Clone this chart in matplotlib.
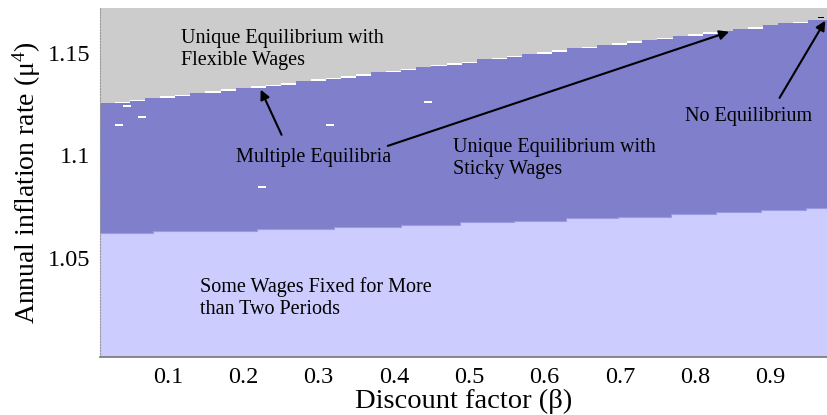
import matplotlib
matplotlib.use("Agg")
import matplotlib.pyplot as plt
import numpy as np

plt.rcParams['font.family'] = ['Liberation Serif', 'DejaVu Serif']
plt.rcParams['mathtext.fontset'] = 'custom'
plt.rcParams['mathtext.rm'] = 'Liberation Serif'
plt.rcParams['mathtext.it'] = 'Liberation Serif:italic'

# ---- data ----
# upper boundary (sticky-wage region / flexible-wage region), step start points
beta_up = [0.010, 0.030, 0.050, 0.070, 0.090, 0.110, 0.130, 0.150, 0.170, 0.190,
           0.210, 0.230, 0.250, 0.270, 0.290, 0.310, 0.330, 0.350, 0.370, 0.390,
           0.410, 0.430, 0.450, 0.470, 0.490, 0.510, 0.530, 0.550, 0.570, 0.590,
           0.610, 0.630, 0.650, 0.670, 0.690, 0.710, 0.730, 0.750, 0.770, 0.790,
           0.810, 0.830, 0.850, 0.870, 0.890, 0.910, 0.930, 0.950]
mu_up = [1.1256, 1.1262, 1.1270, 1.1280, 1.1288, 1.1296, 1.1304, 1.1313, 1.1321, 1.1328,
         1.1337, 1.1345, 1.1352, 1.1361, 1.1370, 1.1378, 1.1386, 1.1395, 1.1404, 1.1412,
         1.1422, 1.1430, 1.1440, 1.1449, 1.1457, 1.1467, 1.1476, 1.1484, 1.1494, 1.1503,
         1.1511, 1.1521, 1.1530, 1.1538, 1.1547, 1.1556, 1.1564, 1.1573, 1.1582, 1.1590,
         1.1599, 1.1608, 1.1616, 1.1625, 1.1634, 1.1643, 1.1651, 1.1660]
# thickness of the "multiple equilibria" sliver under each step
mult_thick = [0.0000, 0.0007, 0.0007, 0.0000, 0.0007, 0.0007, 0.0000, 0.0007, 0.0007, 0.0000,
              0.0007, 0.0007, 0.0007, 0.0000, 0.0007, 0.0007, 0.0007, 0.0007, 0.0000, 0.0007,
              0.0007, 0.0000, 0.0007, 0.0007, 0.0007, 0.0000, 0.0007, 0.0007, 0.0000, 0.0007,
              0.0007, 0.0000, 0.0007, 0.0000, 0.0007, 0.0007, 0.0000, 0.0007, 0.0000, 0.0007,
              0.0007, 0.0000, 0.0000, 0.0007, 0.0000, 0.0000, 0.0007, 0.0000]

# lower boundary (more-than-two-periods region / sticky-wage region)
beta_lo = [0.010, 0.080, 0.219, 0.320, 0.409, 0.488, 0.559, 0.629, 0.698, 0.768, 0.828, 0.888, 0.947]
mu_lo = [1.0623, 1.0632, 1.0643, 1.0651, 1.0662, 1.0674, 1.0682, 1.0694, 1.0701, 1.0715, 1.0724, 1.0733, 1.0744]

# isolated multiple-equilibria points
iso_beta = [0.035, 0.046, 0.066, 0.225, 0.315, 0.445]
iso_mu = [1.1149, 1.1241, 1.1188, 1.0846, 1.1149, 1.1261]

# no-equilibrium point
noeq_beta = [0.967]
noeq_mu = [1.1668]

beta_min, beta_max = 0.010, 0.975
mu_min, mu_max = 1.0017, 1.1718

x_ticks = [0.1, 0.2, 0.3, 0.4, 0.5, 0.6, 0.7, 0.8, 0.9]
x_ticklabels = ["0.1", "0.2", "0.3", "0.4", "0.5", "0.6", "0.7", "0.8", "0.9"]
y_ticks = [1.05, 1.10, 1.15]
y_ticklabels = ["1.05", "1.1", "1.15"]

c_gray = '#cccccc'
c_dark = '#7f7fcc'
c_light = '#ccccff'

fig = plt.figure(figsize=(8.27, 4.15), dpi=100)
ax = fig.add_axes([100/827, 58/415, 727/827, 349/415])
ax.set_facecolor(c_gray)

# sticky wage region (dark) from bottom up to the upper boundary
xu = list(beta_up) + [beta_max]
yu = list(mu_up) + [mu_up[-1]]
ax.fill_between(xu, mu_min, yu, step='post', color=c_dark, lw=0)

# multiple equilibria slivers
up_w = np.diff(xu)
ax.bar(beta_up, mult_thick, width=up_w, bottom=np.array(mu_up) - np.array(mult_thick),
       align='edge', color='white', lw=0)

# more than two periods region (light)
xl = list(beta_lo) + [beta_max]
yl = list(mu_lo) + [mu_lo[-1]]
ax.fill_between(xl, mu_min, yl, step='post', color=c_light, lw=0)
ax.step(xl, yl, where='post', color='#9a9ae0', lw=0.8)

# isolated points
ax.bar(iso_beta, 0.0012, width=0.011, bottom=np.array(iso_mu) - 0.0006,
       color='white', lw=0)
ax.bar(noeq_beta, 0.0006, width=0.008, bottom=np.array(noeq_mu), color='black', lw=0)

ax.set_xlim(beta_min, beta_max)
ax.set_ylim(mu_min, mu_max)
ax.set_xticks(x_ticks)
ax.set_xticklabels(x_ticklabels)
ax.set_yticks(y_ticks)
ax.set_yticklabels(y_ticklabels)
ax.tick_params(length=0, labelsize=17.5, pad=7)

for s in ['top', 'right']:
    ax.spines[s].set_visible(False)
ax.spines['left'].set_linestyle(':')
ax.spines['left'].set_color('#999999')
ax.spines['bottom'].set_color('#777777')
ax.spines['bottom'].set_linewidth(1.2)

ax.set_xlabel("Discount factor (β)", fontsize=20.5, labelpad=1)
ax.set_ylabel("Annual inflation rate (μ$^{4}$)", fontsize=20, labelpad=3)

tfs = 14.5
ax.text(0.1175, 1.1517, "Unique Equilibrium with\nFlexible Wages", fontsize=tfs,
        ha='left', va='center', linespacing=1.2)
ax.text(0.478, 1.0983, "Unique Equilibrium with\nSticky Wages", fontsize=tfs,
        ha='left', va='center', linespacing=1.2)
ax.text(0.787, 1.1188, "No Equilibrium", fontsize=tfs, ha='left', va='center')
ax.text(0.1425, 1.0305, "Some Wages Fixed for More\nthan Two Periods", fontsize=tfs,
        ha='left', va='center', linespacing=1.2)
ax.text(0.190, 1.0988, "Multiple Equilibria", fontsize=tfs, ha='left', va='center')

ap = dict(arrowstyle='-|>', lw=1.5, color='black', mutation_scale=14,
          shrinkA=0, shrinkB=0)
ax.annotate("", xy=(0.2233, 1.1320), xytext=(0.251, 1.1100), arrowprops=ap)
ax.annotate("", xy=(0.845, 1.1602), xytext=(0.392, 1.1046), arrowprops=ap)
ax.annotate("", xy=(0.9727, 1.1656), xytext=(0.912, 1.1280), arrowprops=ap)

fig.savefig("out.png", dpi=100)
